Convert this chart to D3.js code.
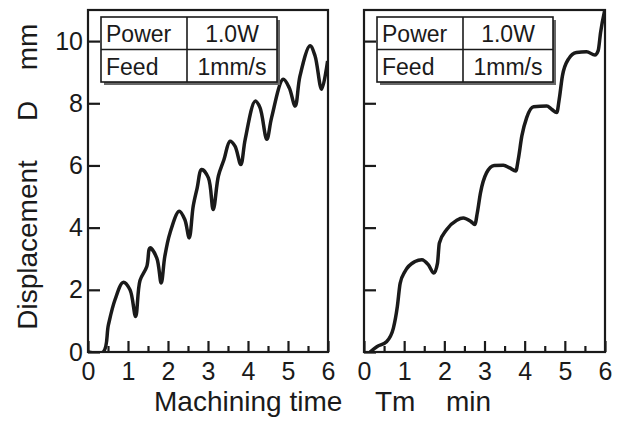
<!DOCTYPE html>
<html>
<head>
<meta charset="utf-8">
<script src="https://cdn.jsdelivr.net/npm/d3@7"></script>
<style>
body { margin: 0; background: #fff; }
text { font-family: "Liberation Sans", Arial, sans-serif; fill: #1a1a1a; }
</style>
</head>
<body>
<script>
// data
var leftT = [0, 0.38, 0.51, 0.675, 0.88, 1.05, 1.19, 1.3, 1.47, 1.55, 1.72, 1.83, 1.92, 2.05, 2.28, 2.42, 2.53, 2.63, 2.73, 2.84, 3.01, 3.13, 3.26, 3.4, 3.55, 3.675, 3.82, 3.93, 4.18, 4.3, 4.47, 4.59, 4.88, 5.03, 5.18, 5.3, 5.55, 5.675, 5.84, 5.99];
var leftD = [0, 0, 0.87, 1.68, 2.24, 2.0, 1.14, 2.3, 2.75, 3.35, 3.02, 2.22, 3.07, 3.83, 4.53, 4.26, 3.67, 4.69, 5.28, 5.87, 5.6, 4.58, 5.66, 6.19, 6.78, 6.62, 6.03, 6.84, 8.07, 7.86, 6.84, 7.54, 8.77, 8.5, 7.91, 8.88, 9.85, 9.53, 8.45, 9.36];

var rightT = [0.15, 0.32, 0.56, 0.73, 0.83, 0.9, 1.02, 1.27, 1.44, 1.6, 1.74, 1.83, 1.875, 2.06, 2.31, 2.47, 2.66, 2.76, 2.82, 2.9, 3.05, 3.24, 3.47, 3.63, 3.78, 3.84, 3.93, 4.05, 4.22, 4.55, 4.67, 4.8, 4.86, 4.94, 5.09, 5.29, 5.54, 5.75, 5.83, 5.89, 6.0];
var rightD = [0, 0.17, 0.33, 0.76, 1.46, 2.21, 2.59, 2.91, 2.97, 2.81, 2.54, 2.86, 3.5, 3.94, 4.24, 4.31, 4.2, 4.1, 4.47, 5.12, 5.76, 6.0, 6.01, 5.92, 5.82, 6.19, 6.95, 7.54, 7.89, 7.91, 7.81, 7.7, 8.13, 8.88, 9.42, 9.63, 9.66, 9.55, 9.69, 10.28, 11.03];

var xMajor = [0, 1, 2, 3, 4, 5, 6];
var xMinor = [0.5, 1.5, 2.5, 3.5, 4.5, 5.5];
var yTicks = [0, 2, 4, 6, 8, 10];
var legendRows = [["Power", "1.0W"], ["Feed", "1mm/s"]];

var width = 628, height = 421;
var plotTop = 10, plotBottom = 352;
var ink = "#1a1a1a";

var svg = d3.select("body").append("svg")
  .attr("width", width)
  .attr("height", height);

var yScale = d3.scaleLinear().domain([0, 11]).range([plotBottom, plotTop]);

var panels = [
  {id: "a", left: 88, right: 328, t: leftT, d: leftD, labels: true, curve: d3.curveCatmullRom.alpha(0.5)},
  {id: "b", left: 364, right: 605, t: rightT, d: rightD, labels: false, curve: d3.curveMonotoneX}
];

panels.forEach(function(p) {
  var xScale = d3.scaleLinear().domain([0, 6]).range([p.left, p.right]);
  var g = svg.append("g");

  svg.append("clipPath").attr("id", "clip-" + p.id)
     .append("rect")
     .attr("x", p.left).attr("y", plotTop)
     .attr("width", p.right - p.left).attr("height", plotBottom - plotTop);

  // minor x ticks
  g.append("g")
   .attr("transform", `translate(0, ${plotBottom})`)
   .call(d3.axisBottom(xScale).tickValues(xMinor).tickSizeInner(-6).tickSizeOuter(0).tickFormat(""))
   .call(function(a) { a.select(".domain").remove(); });

  // major x ticks with labels
  g.append("g")
   .attr("transform", `translate(0, ${plotBottom})`)
   .call(d3.axisBottom(xScale).tickValues(xMajor).tickSizeInner(-11).tickSizeOuter(0).tickPadding(10).tickFormat(d3.format("d")))
   .call(function(a) {
     a.select(".domain").remove();
     a.selectAll("text").style("font-size", "25px").attr("fill", ink);
   });

  // y ticks
  g.append("g")
   .attr("transform", `translate(${p.left}, 0)`)
   .call(d3.axisLeft(yScale).tickValues(yTicks).tickSizeInner(-12).tickSizeOuter(0).tickPadding(5)
         .tickFormat(p.labels ? d3.format("d") : ""))
   .call(function(a) {
     a.select(".domain").remove();
     a.selectAll("text").style("font-size", "25px").attr("fill", ink);
   });

  g.selectAll(".tick line").attr("stroke", ink).attr("stroke-width", 2.2);

  // frame
  g.append("rect")
   .attr("x", p.left).attr("y", plotTop)
   .attr("width", p.right - p.left).attr("height", plotBottom - plotTop)
   .attr("fill", "none").attr("stroke", ink).attr("stroke-width", 2.2);

  // curve
  var line = d3.line()
    .x(function(d, i) { return xScale(p.t[i]); })
    .y(function(d) { return yScale(d); })
    .curve(p.curve);

  g.append("path")
   .attr("d", line(p.d))
   .attr("clip-path", `url(#clip-${p.id})`)
   .attr("fill", "none")
   .attr("stroke", ink)
   .attr("stroke-width", 3.5)
   .attr("stroke-linejoin", "round");

  // legend table
  var lx = p.left + 13, ly = 17, lw = 176, rowH = 32.5, col = 86;
  var leg = g.append("g");
  leg.append("rect")
     .attr("x", lx + 3).attr("y", ly + 3).attr("width", lw).attr("height", rowH * 2)
     .attr("fill", "#666");
  leg.append("rect")
     .attr("x", lx).attr("y", ly).attr("width", lw).attr("height", rowH * 2)
     .attr("fill", "#fff").attr("stroke", ink).attr("stroke-width", 1.6);
  leg.append("line")
     .attr("x1", lx).attr("x2", lx + lw).attr("y1", ly + rowH).attr("y2", ly + rowH)
     .attr("stroke", ink).attr("stroke-width", 1.4);
  leg.append("line")
     .attr("x1", lx + col).attr("x2", lx + col).attr("y1", ly).attr("y2", ly + rowH * 2)
     .attr("stroke", ink).attr("stroke-width", 1.6);
  legendRows.forEach(function(r, i) {
    leg.append("text")
       .attr("x", lx + 5).attr("y", ly + rowH * i + 25)
       .style("font-size", "23px")
       .text(r[0]);
    leg.append("text")
       .attr("x", lx + col + (lw - col) / 2).attr("y", ly + rowH * i + 25)
       .style("font-size", "23px")
       .style("text-anchor", "middle")
       .text(r[1]);
  });
});

// X label
[["Machining time", 154], ["Tm", 375], ["min", 446]].forEach(function(d) {
  svg.append("text")
     .attr("x", d[1]).attr("y", 411)
     .style("font-size", "28px")
     .text(d[0]);
});

// Y label
[["Displacement", 245], ["D", 111], ["mm", 47]].forEach(function(d) {
  svg.append("text")
     .attr("transform", `translate(37, ${d[1]}) rotate(-90)`)
     .style("text-anchor", "middle")
     .style("font-size", "28px")
     .text(d[0]);
});
</script>
</body>
</html>
